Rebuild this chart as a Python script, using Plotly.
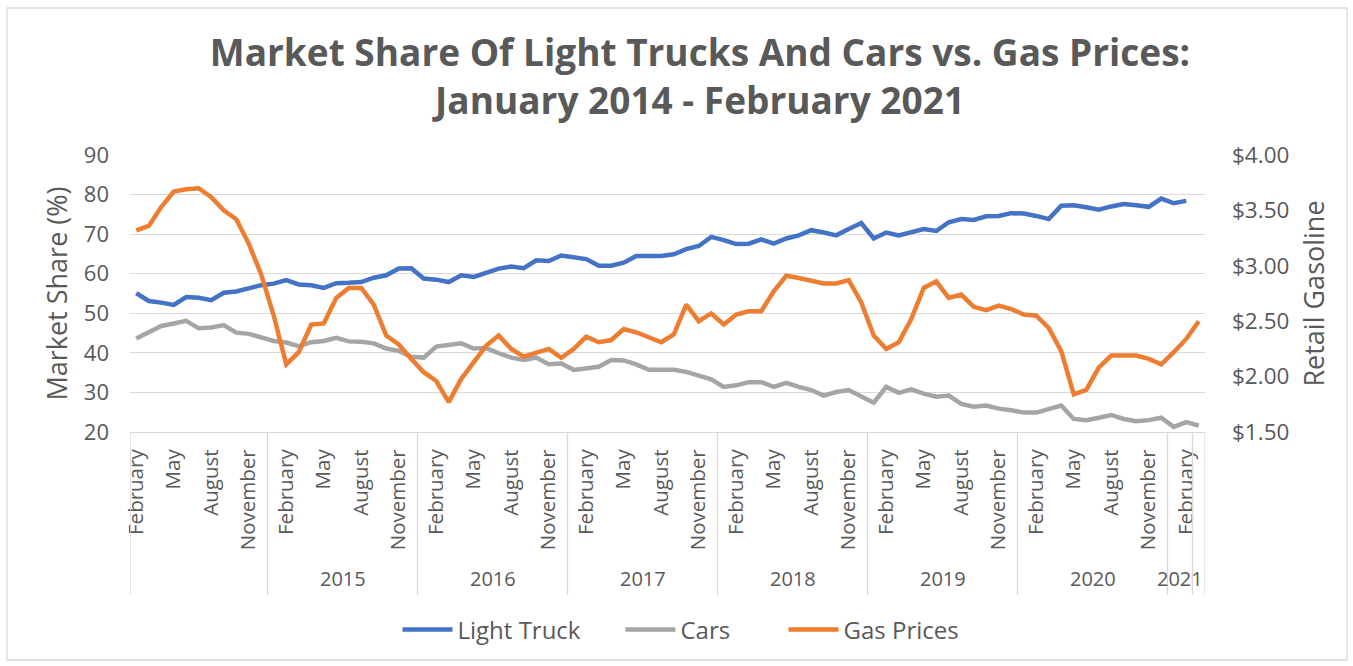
import plotly.graph_objects as go

# ---------------- data ----------------
light_truck = [55.1, 53.1, 52.7, 52.1, 54.1, 53.9, 53.3, 55.2, 55.5, 56.4, 57.1, 57.5,
               58.4, 57.3, 57.1, 56.4, 57.6, 57.7, 57.9, 59.0, 59.6, 61.3, 61.4, 58.8,
               58.5, 57.9, 59.6, 59.2, 60.3, 61.3, 61.8, 61.4, 63.4, 63.2, 64.6, 64.1,
               63.7, 62.0, 62.0, 62.8, 64.5, 64.5, 64.5, 64.9, 66.2, 67.0, 69.3, 68.5,
               67.5, 67.6, 68.7, 67.6, 68.9, 69.7, 71.0, 70.4, 69.7, 71.3, 72.8, 68.9,
               70.4, 69.7, 70.4, 71.3, 70.8, 73.0, 73.8, 73.6, 74.5, 74.6, 75.3, 75.2,
               74.6, 73.8, 77.2, 77.3, 76.8, 76.2, 77.0, 77.6, 77.3, 76.9, 79.0, 77.8,
               78.4]
cars = [43.6, 45.2, 46.8, 47.4, 48.1, 46.2, 46.4, 47.0, 45.1, 44.8, 43.8, 43.0,
        42.6, 41.7, 42.7, 43.0, 43.8, 42.9, 42.8, 42.4, 41.1, 40.5, 39.0, 38.8,
        41.6, 41.9, 42.4, 41.1, 41.2, 39.9, 38.8, 38.2, 38.8, 37.1, 37.3, 35.7,
        36.2, 36.5, 38.2, 38.1, 37.1, 35.7, 35.7, 35.7, 35.2, 34.1, 33.3, 31.4,
        31.8, 32.6, 32.6, 31.4, 32.4, 31.4, 30.6, 29.2, 30.1, 30.6, 28.9, 27.4,
        31.4, 29.9, 30.8, 29.7, 28.9, 29.2, 27.1, 26.4, 26.7, 25.9, 25.5, 24.9,
        24.9, 25.7, 26.7, 23.3, 23.0, 23.6, 24.3, 23.3, 22.7, 23.0, 23.6, 21.3,
        22.5, 21.6]
gas_prices = [3.32, 3.36, 3.53, 3.67, 3.69, 3.70, 3.62, 3.50, 3.42, 3.20, 2.92, 2.55,
              2.11, 2.22, 2.47, 2.48, 2.71, 2.80, 2.80, 2.65, 2.37, 2.29, 2.16, 2.04,
              1.96, 1.77, 1.98, 2.13, 2.28, 2.37, 2.25, 2.18, 2.22, 2.25, 2.17, 2.25,
              2.36, 2.31, 2.33, 2.43, 2.40, 2.36, 2.31, 2.38, 2.65, 2.50, 2.57, 2.47,
              2.56, 2.59, 2.59, 2.77, 2.91, 2.89, 2.86, 2.84, 2.84, 2.87, 2.67, 2.37,
              2.25, 2.31, 2.52, 2.80, 2.86, 2.71, 2.74, 2.63, 2.60, 2.64, 2.61, 2.56,
              2.55, 2.44, 2.23, 1.84, 1.88, 2.08, 2.19, 2.19, 2.19, 2.16, 2.11, 2.22,
              2.34, 2.50]

# category groups on the x axis (year, number of months in the group)
year_labels = ["", "2015", "2016", "2017", "2018", "2019", "2020", "2021", ""]
year_counts = [11, 12, 12, 12, 12, 12, 12, 2, 1]
month_tick_labels = ["February", "May", "August", "November"] * 7 + ["February"]
left_ticks = [20, 30, 40, 50, 60, 70, 80, 90]
right_ticks = [1.50, 2.00, 2.50, 3.00, 3.50, 4.00]

n_cat = sum(year_counts)
x_all = list(range(n_cat))
tick_step = 3

TXT = "#595959"
GRID = "#d9d9d9"
FONT = "Open Sans"

W, H = 1353, 666
L, R, T, B = 130, 148, 155, 234
plot_w = W - L - R
plot_h = H - T - B

fig = go.Figure()
fig.add_trace(go.Scatter(x=x_all[:len(light_truck)], y=light_truck, name="Light Truck",
                         mode="lines", line=dict(color="#4472C4", width=4.5), legendwidth=158))
fig.add_trace(go.Scatter(x=x_all[:len(cars)], y=cars, name="Cars",
                         mode="lines", line=dict(color="#A5A5A5", width=4.5), legendwidth=98))
fig.add_trace(go.Scatter(x=x_all[:len(gas_prices)], y=gas_prices, name="Gas Prices",
                         mode="lines", line=dict(color="#ED7D31", width=4.5), yaxis="y2"))

shapes = []
annotations = []
# group separators and year labels
edges = [-0.5]
for c in year_counts:
    edges.append(edges[-1] + c)
sep_bottom = -(595 - 432) / plot_h
for e in edges:
    shapes.append(dict(type="line", xref="x", yref="paper", x0=e, x1=e, y0=0, y1=sep_bottom,
                       line=dict(color=GRID, width=1.3)))
for lab, a, b in zip(year_labels, edges[:-1], edges[1:]):
    if lab:
        annotations.append(dict(text=lab, xref="x", yref="paper", x=(a + b) / 2,
                                y=-(578 - 432) / plot_h, showarrow=False,
                                font=dict(family=FONT, size=20, color=TXT),
                                xanchor="center", yanchor="middle"))
# outer chart border
shapes.append(dict(type="rect", xref="paper", yref="paper",
                   x0=(7 - L) / plot_w, x1=(1347 - L) / plot_w,
                   y0=-(660 - 432) / plot_h, y1=1 + (155 - 8) / plot_h,
                   line=dict(color=GRID, width=1.3), fillcolor="rgba(0,0,0,0)", layer="below"))

fig.update_layout(
    width=W, height=H,
    margin=dict(l=L, r=R, t=T, b=B),
    paper_bgcolor="white", plot_bgcolor="white",
    font=dict(family=FONT, color=TXT),
    title=dict(text="Market Share Of Light Trucks And Cars vs. Gas Prices:<br>January 2014 - February 2021",
               font=dict(family=FONT, size=37, color=TXT, weight="bold"),
               x=700 / W, xref="container", xanchor="center",
               y=1 - 66 / H, yref="container", yanchor="middle"),
    xaxis=dict(range=[-0.5, n_cat - 0.5], tickmode="array",
               tickvals=x_all[0:len(month_tick_labels) * tick_step:tick_step],
               ticktext=month_tick_labels, tickangle=-90, showgrid=False,
               showline=True, linecolor=GRID, linewidth=1.3, ticks="",
               ticklabelstandoff=8, tickfont=dict(family=FONT, size=20.5, color=TXT),
               zeroline=False, fixedrange=True),
    yaxis=dict(range=[20, 90], tickvals=left_ticks, showgrid=True, gridcolor=GRID, gridwidth=1.3,
               zeroline=False, tickfont=dict(family=FONT, size=22, color=TXT),
               ticklabelstandoff=20,
               title=dict(text="Market Share (%)", font=dict(family=FONT, size=27, color=TXT), standoff=8)),
    yaxis2=dict(range=[1.5, 4.0], tickvals=right_ticks, tickformat="$.2f", overlaying="y", side="right",
                showgrid=False, zeroline=False, tickfont=dict(family=FONT, size=22.5, color=TXT),
                ticklabelstandoff=26,
                title=dict(text="Retail Gasoline", font=dict(family=FONT, size=27, color=TXT), standoff=16)),
    legend=dict(orientation="h", x=681 / W, xref="container", xanchor="center",
                y=1 - 630 / H, yref="container", yanchor="middle",
                font=dict(family=FONT, size=24, color=TXT), itemwidth=50),
    shapes=shapes,
    annotations=annotations,
    showlegend=True,
)

fig.write_html("out.html", config={"displayModeBar": False},
               post_script="document.body.style.margin='0px';document.body.style.overflow='hidden';")
